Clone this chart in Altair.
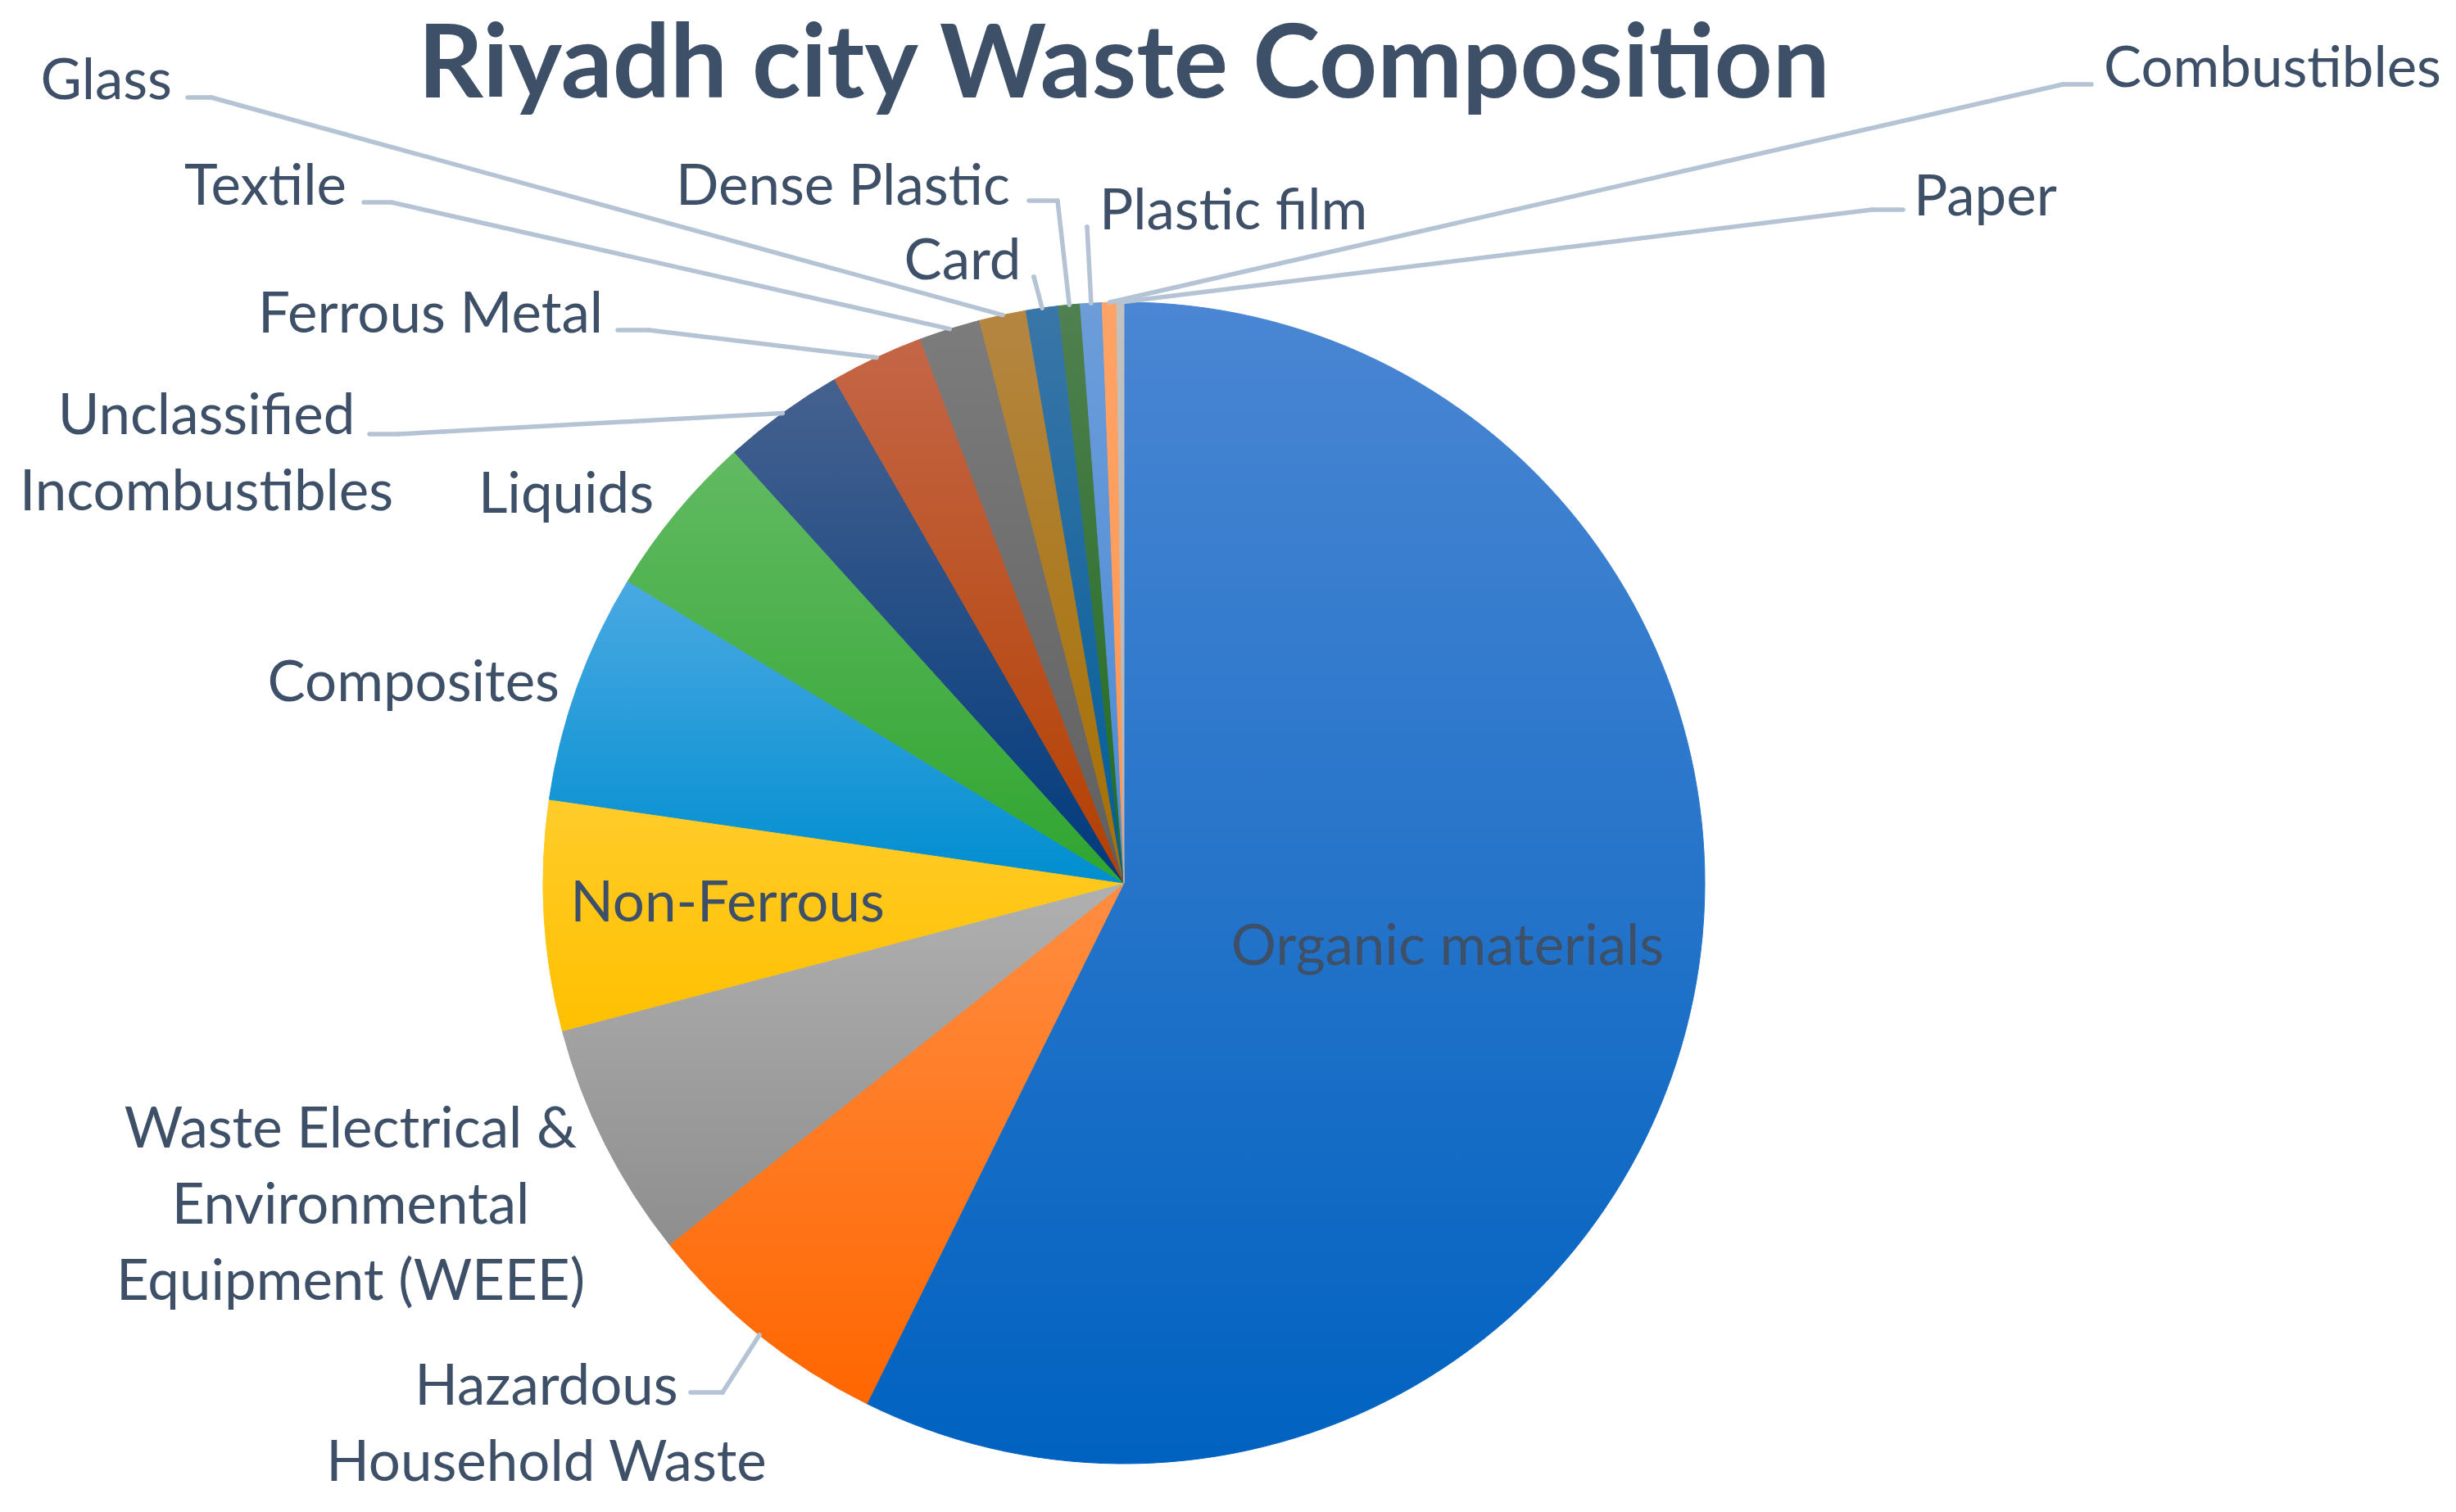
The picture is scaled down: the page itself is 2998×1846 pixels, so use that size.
import math
import altair as alt
import pandas as pd

# ---------------- data ----------------
categories = [
    "Organic materials", "Hazardous Household Waste",
    "Waste Electrical & Environmental Equipment (WEEE)", "Non-Ferrous",
    "Composites", "Liquids", "Unclassified Incombustibles", "Ferrous Metal",
    "Textile", "Glass", "Card", "Dense Plastic", "Plastic film",
    "Combustibles", "Paper",
]
values = [57.3, 7.0, 6.6, 6.4, 6.4, 4.6, 3.4, 2.6, 1.7, 1.3, 0.9, 0.6, 0.6, 0.4, 0.2]
label_text = [
    "Organic materials", "Hazardous\nHousehold Waste",
    "Waste Electrical &\nEnvironmental\nEquipment (WEEE)", "Non-Ferrous",
    "Composites", "Liquids", "Unclassified\nIncombustibles", "Ferrous Metal",
    "Textile", "Glass", "Card", "Dense Plastic", "Plastic film",
    "Combustibles", "Paper",
]
title_text = "Riyadh city Waste Composition"

# ---------------- style ----------------
# (top colour, bottom colour) of each slice's vertical gradient
slice_colors = [
    ("#4A86D3", "#0062C0"), ("#FF8D42", "#FF6600"), ("#B0B0B0", "#8E8E8E"),
    ("#FFCC2A", "#FFC000"), ("#4AA9E2", "#008ED0"), ("#62BA62", "#2FA52F"),
    ("#45618F", "#003A7D"), ("#C46647", "#B33F00"), ("#7C7C7C", "#5F5F5F"),
    ("#B48641", "#A66F00"), ("#3A76A8", "#005C99"), ("#508050", "#1F6B1F"),
    ("#6C9DD9", "#4A8AD8"), ("#FFA366", "#FF9650"), ("#C2C2C2", "#B5B5B5"),
]
TEXT = "#3E5068"
LEADER = "#B5C4D4"
FONT = "Lato"
W, H = 2982, 1830
CX, CY, R = 1364, 1070, 709

# label anchors (chart pixels; first line for wrapped labels): x, y, align
label_layout = {
    "Organic materials": (1759, 1149, "center"),
    "Hazardous Household Waste": (659, 1686, "center"),
    "Waste Electrical & Environmental Equipment (WEEE)": (420, 1372, "center"),
    "Non-Ferrous": (880, 1096, "center"),
    "Composites": (675, 827, "right"),
    "Liquids": (683, 597, "center"),
    "Unclassified Incombustibles": (244, 501, "center"),
    "Ferrous Metal": (728, 377, "right"),
    "Textile": (415, 221, "right"),
    "Glass": (202, 92, "right"),
    "Card": (1167, 312, "center"),
    "Dense Plastic": (1225, 221, "right"),
    "Plastic film": (1334, 251, "left"),
    "Combustibles": (2560, 77, "left"),
    "Paper": (2328, 234, "left"),
}
# leader lines: stub start x, elbow x, elbow y (chart pixels)
leader_layout = {
    "Glass": (221, 250, 111),
    "Textile": (436, 470, 239),
    "Ferrous Metal": (746, 784, 395),
    "Unclassified Incombustibles": (443, 478, 522),
    "Hazardous Household Waste": (835, 874, 1692),
    "Card": (1254, 1254, 330),
    "Dense Plastic": (1248, 1283, 237),
    "Plastic film": (1319, 1319, 269),
    "Combustibles": (2545, 2510, 95),
    "Paper": (2315, 2277, 248),
}
TITLE_X, TITLE_Y = CX, 111

df = pd.DataFrame({"category": categories, "value": values,
                   "idx": list(range(len(categories)))})

lab_df = pd.DataFrame({
    "category": categories,
    "label": label_text,
    "lx": [label_layout[c][0] for c in categories],
    "ly": [label_layout[c][1] for c in categories],
    "align": [label_layout[c][2] for c in categories],
})
lead_df = pd.DataFrame({
    "category": list(leader_layout.keys()),
    "sx": [v[0] for v in leader_layout.values()],
    "ex": [v[1] for v in leader_layout.values()],
    "ey": [v[2] for v in leader_layout.values()],
})


def with_angles(ch):
    return (
        ch.transform_joinaggregate(total="sum(value)")
        .transform_window(cum="sum(value)",
                          sort=[alt.SortField("idx", order="ascending")],
                          frame=[None, 0])
        .transform_calculate(
            start="(datum.cum - datum.value) / datum.total",
            end="datum.cum / datum.total",
            mid="(datum.cum - datum.value / 2) / datum.total",
        )
    )


def grad(top, bottom):
    return alt.LinearGradient(
        gradient="linear", x1=0, x2=0, y1=0, y2=1,
        stops=[alt.GradientStop(color=top, offset=0),
               alt.GradientStop(color=bottom, offset=1)],
    )


layers = []
theta_scale = alt.Scale(domain=[0, 1], range=[0, 2 * math.pi])
for cat, (top, bottom) in zip(categories, slice_colors):
    g = grad(top, bottom)
    arc = with_angles(
        alt.Chart(df).mark_arc(radius=R, fill=g, stroke=g, strokeWidth=1)
    ).transform_filter(alt.datum.category == cat).encode(
        theta=alt.Theta("start:Q", scale=theta_scale),
        theta2="end:Q",
        x=alt.value(CX), y=alt.value(CY),
        tooltip=["category:N", "value:Q"],
    )
    layers.append(arc)

leader_base = with_angles(alt.Chart(df)).transform_lookup(
    lookup="category",
    from_=alt.LookupData(lead_df, "category", ["sx", "ex", "ey"]),
).transform_filter("isValid(datum.ex)").transform_calculate(
    px=f"{CX} + {R} * sin(2 * PI * datum.mid)",
    py=f"{CY} - {R} * cos(2 * PI * datum.mid)",
)
stub = leader_base.mark_rule(color=LEADER, strokeWidth=5.5, strokeCap="round").encode(
    x=alt.X("sx:Q", scale=None, axis=None), x2="ex:Q",
    y=alt.Y("ey:Q", scale=None, axis=None),
)
diag = leader_base.mark_rule(color=LEADER, strokeWidth=5.5, strokeCap="round").encode(
    x=alt.X("ex:Q", scale=None, axis=None), x2="px:Q",
    y=alt.Y("ey:Q", scale=None, axis=None), y2="py:Q",
)
layers += [stub, diag]

for al in ["left", "center", "right"]:
    t = alt.Chart(lab_df).transform_filter(alt.datum.align == al).mark_text(
        align=al, baseline="middle", font=FONT, fontSize=69, color=TEXT,
        lineBreak="\n", lineHeight=93,
    ).encode(
        x=alt.X("lx:Q", scale=None, axis=None),
        y=alt.Y("ly:Q", scale=None, axis=None),
        text="label:N",
    )
    layers.append(t)

title = alt.Chart(pd.DataFrame({"title": [title_text]})).mark_text(
    align="center", baseline="alphabetic", font=FONT, fontSize=124,
    fontWeight="bold", color=TEXT,
).encode(x=alt.value(TITLE_X), y=alt.value(TITLE_Y), text="title:N")
layers.append(title)

chart = alt.layer(*layers).properties(
    width=W, height=H,
    autosize=alt.AutoSizeParams(type="none"),
    padding=0,
    background="white",
).configure_view(strokeWidth=0)

chart.save("out.html", embed_options={"renderer": "svg", "actions": False})
